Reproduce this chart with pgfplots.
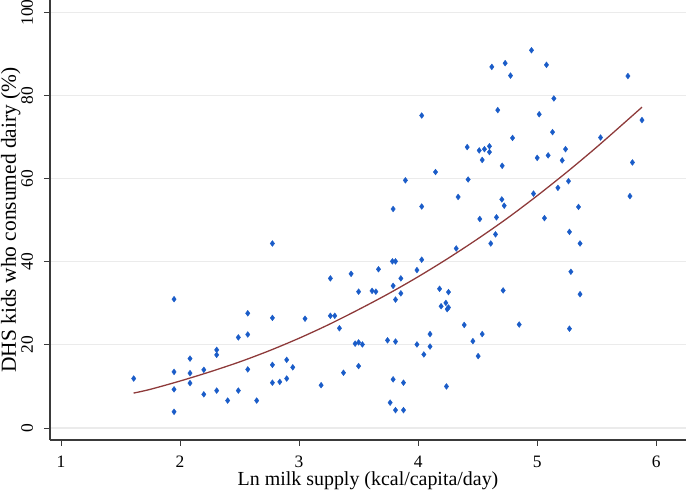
\documentclass[border=0pt]{standalone}
\usepackage{pgfplots}
\pgfplotsset{compat=1.18}
\usepackage{fontspec}
\setmainfont{Liberation Serif}
\definecolor{ptblue}{HTML}{1A5CC8}
\definecolor{fitred}{HTML}{8E3A3A}
\definecolor{axgray}{HTML}{3A3A3A}
\definecolor{gridgray}{HTML}{EBEBEB}
\begin{document}
\begin{tikzpicture}
\useasboundingbox (-50bp,-51bp) rectangle (636bp,440bp);
\begin{axis}[
  at={(0,0)}, anchor=south west,
  scale only axis, width=636bp, height=440bp,
  xmin=0.908, xmax=6.25, ymin=-2.89, ymax=103,
  axis x line*=bottom, axis y line*=left,
  axis line style={axgray, line width=1.3pt},
  xtick={1,2,3,4,5,6}, ytick={0,20,40,60,80,100},
  tick align=outside, tick style={axgray, line width=0.9pt},
  major tick length=6bp,
  ymajorgrids, grid style={gridgray, line width=1.2pt},
  /pgf/number format/assume math mode=true,
  tick label style={font=\fontsize{17.5}{20}\selectfont},
  yticklabel style={rotate=90, anchor=base, yshift=11bp},
  xticklabel style={anchor=base, yshift=-22bp},
  xlabel={Ln milk supply (kcal/capita/day)},
  ylabel={DHS kids who consumed dairy (\%)},
  label style={font=\fontsize{20}{23}\selectfont, inner sep=0pt},
  xlabel style={at={(axis description cs:0.5,-0.1045)}, anchor=base},
  ylabel style={at={(axis description cs:-0.0535,0.5)}, anchor=base, rotate=0, font=\fontsize{21.5}{24}\selectfont},
  clip=false,
]
\addplot[only marks, mark=diamond*, mark size=2.9bp, color=ptblue, mark options={fill=ptblue, draw=ptblue}] coordinates {
(1.611,11.9) (1.95,31.0) (1.95,13.5) (1.95,9.3) (1.95,3.9)
(2.084,16.7) (2.084,13.2) (2.084,10.8) (2.20,14.0) (2.20,8.1)
(2.308,18.8) (2.308,17.6) (2.308,9.0) (2.40,6.6) (2.49,21.8)
(2.49,9.0) (2.569,27.6) (2.569,22.5) (2.569,14.1) (2.644,6.6)
(2.776,44.4) (2.776,26.5) (2.776,15.2) (2.776,10.9) (2.838,11.1)
(2.896,16.4) (2.896,11.9) (2.947,14.6) (3.05,26.3) (3.185,10.3)
(3.263,36.0) (3.263,27.0) (3.30,27.0) (3.339,24.0) (3.373,13.3)
(3.437,37.1) (3.471,20.3) (3.50,20.6) (3.532,20.1) (3.50,32.8)
(3.50,14.9) (3.613,33.0) (3.645,32.8) (3.667,38.2) (3.743,21.1)
(3.765,6.1) (3.79,11.7) (3.79,34.2) (3.784,40.1) (3.81,40.1)
(3.81,20.8) (3.81,30.9) (3.81,4.3) (3.855,36.0) (3.855,32.4)
(3.877,10.9) (3.877,4.3) (3.99,38.0) (3.99,20.1) (4.03,40.5)
(4.048,17.7) (4.10,22.6) (4.10,19.6) (4.18,33.5) (4.193,29.3)
(4.255,32.7) (4.233,30.1) (4.244,28.6) (4.255,29.0) (4.238,10.0)
(4.32,43.2) (4.387,24.8) (4.46,20.9) (4.538,22.6) (4.504,17.3)
(4.61,44.4) (4.714,33.1) (4.849,24.9) (5.271,23.9) (5.283,37.6)
(5.36,44.4) (5.36,32.2) (4.65,46.6) (5.271,47.2) (4.03,75.2)
(4.412,67.6) (4.146,61.6) (3.893,59.6) (4.42,59.8) (4.336,55.6)
(4.03,53.3) (3.79,52.7) (4.952,90.9) (4.619,86.9) (4.731,87.8)
(5.078,87.4) (4.776,84.8) (5.762,84.7) (5.14,79.3) (4.669,76.5)
(5.017,75.5) (5.88,74.1) (5.129,71.2) (4.793,69.8) (5.532,69.9)
(4.513,66.8) (4.557,67.1) (4.599,67.8) (4.599,66.4) (5.238,67.1)
(4.538,64.5) (5.0,65.0) (5.092,65.6) (5.21,64.4) (4.706,63.1)
(5.80,63.9) (5.174,57.8) (5.263,59.4) (4.969,56.4) (4.703,55.0)
(4.723,53.5) (5.779,55.8) (5.347,53.2) (4.518,50.3) (4.658,50.7)
(5.061,50.5)
};
\addplot[smooth, no marks, color=fitred, line width=1.3pt] coordinates {
(1.61,8.4) (1.75,9.3) (2.0,11.3) (2.25,13.5) (2.5,15.9) (2.75,18.6)
(3.0,21.6) (3.25,24.9) (3.5,28.5) (3.75,32.3) (4.0,36.4) (4.25,40.8)
(4.5,45.5) (4.75,50.5) (5.0,55.9) (5.25,61.6) (5.5,67.6) (5.75,73.9)
(5.88,77.2)
};
\end{axis}
\end{tikzpicture}
\end{document}
